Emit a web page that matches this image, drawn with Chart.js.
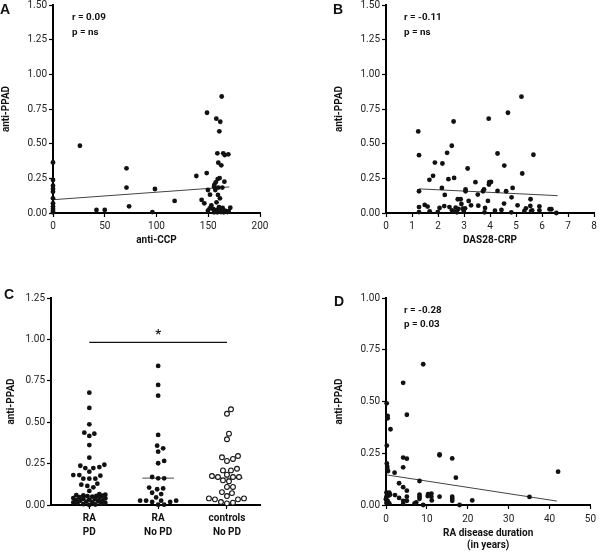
<!DOCTYPE html>
<html><head><meta charset="utf-8">
<script src="https://cdn.jsdelivr.net/npm/chart.js@4.4.1/dist/chart.umd.min.js"></script>
<style>
html,body{margin:0;padding:0;background:#fff}
body{width:600px;height:552px;position:relative;overflow:hidden;font-family:Roboto,"Liberation Sans",sans-serif}
canvas{position:absolute}
.t{position:absolute;font-weight:bold;color:#111;white-space:nowrap}
.let{font-family:"Liberation Sans","DejaVu Sans",sans-serif;font-size:14px;line-height:16px}
.st{font-size:9.8px;line-height:12px}
</style></head><body>
<canvas id="cA" width="300" height="296" style="left:0;top:-20px;width:300px;height:296px"></canvas>
<canvas id="cB" width="300" height="296" style="left:300px;top:-20px;width:300px;height:296px"></canvas>
<canvas id="cC" width="300" height="296" style="left:0;top:256px;width:300px;height:296px"></canvas>
<canvas id="cD" width="300" height="296" style="left:300px;top:256px;width:300px;height:296px"></canvas>
<div class="t let" style="left:0;top:1px">A</div>
<div class="t let" style="left:333px;top:1px">B</div>
<div class="t let" style="left:4px;top:286px">C</div>
<div class="t let" style="left:334px;top:293px">D</div>
<div class="t st" style="left:72px;top:11px">r = 0.09</div>
<div class="t st" style="left:72px;top:26px">p = ns</div>
<div class="t st" style="left:404px;top:11px">r = -0.11</div>
<div class="t st" style="left:404px;top:26px">p = ns</div>
<div class="t st" style="left:404px;top:304px">r = -0.28</div>
<div class="t st" style="left:404px;top:318px">p = 0.03</div>
<script>
// ---------- DATA ----------
// Panel A: anti-CCP vs anti-PPAD
const ccpA = [0,0,0,0,0,0,0,0,0,0,0,26,42,50,71,71,73.5,96,98.5,117.5,138.5,148.5,148.8,157.8,161.6,160.7,163,158.8,164.5,165.9,169.4,159.7,162.6,
  159.1,161,157.2,155.9,165.6,155.6,159.7,163.6,149.7,156.8,151.7,159.4,161.3,143.6,146.2,153,158,160.4,151.4,154.6,157.8,160.7,163.9,149.7,162.3,166.2,168.5,171.3,169.7,158.8,165,155.6];
const ppadA = [0.365,0.238,0.197,0.173,0.154,0.106,0.07,0.046,0.029,0.014,0.005,0.485,0.022,0.022,0.322,0.183,0.048,0.007,0.173,0.087,0.267,0.288,0.723,0.68,0.658,0.589,0.84,0.43,0.43,0.418,0.423,0.363,0.344,
  0.245,0.252,0.221,0.202,0.226,0.19,0.183,0.183,0.166,0.166,0.132,0.13,0.106,0.094,0.07,0.055,0.077,0.043,0.034,0.029,0.022,0.026,0.036,0.017,0.007,0.017,0.007,0.038,0.014,0.005,0.005,0.005];
const fitAx = [0,170.4];
const fitAy = [0.096,0.188];

// Panel B: DAS28-CRP vs anti-PPAD
const dasB = [1.24,1.27,1.27,1.27,1.27,1.49,1.6,1.67,1.81,1.88,1.68,1.99,2.06,2.17,2.15,2.26,2.24,2.35,2.4,2.53,2.6,2.62,2.44,2.54,2.62,2.68,2.76,2.87,2.78,2.73,2.9,2.95,2.99,3.06,3.06,3.04,3.14,3.18,3.27,3.44,3.53,3.55,3.73,3.77,3.81,3.79,3.95,3.92,3.97,4.04,3.96,4.19,4.29,4.29,4.44,4.54,4.55,4.62,4.69,4.87,4.83,4.82,5.06,5.21,5.24,5.32,5.38,5.56,5.55,5.58,5.67,5.62,5.9,5.9,6.29,6.36,6.55];
const ppadB = [0.588,0.417,0.157,0.043,0.007,0.058,0.046,0.239,0.268,0.364,0.012,0.007,0.036,0.357,0.181,0.13,0.05,0.434,0.244,0.485,0.66,0.253,0.043,0.019,0.01,0.039,0.099,0.099,0.029,0.005,0.065,0.031,0.014,0.171,0.157,0.034,0.321,0.087,0.055,0.222,0.133,0.053,0.157,0.171,0.036,0.005,0.68,0.087,0.222,0.224,0.205,0.017,0.159,0.429,0.022,0.068,0.342,0.157,0.723,0.181,0.113,0.005,0.055,0.839,0.285,0.014,0.034,0.099,0.051,0.014,0.42,0.019,0.048,0.019,0.027,0.027,0.0];
const fitBx = [1.27,6.6];
const fitBy = [0.174,0.125];

// Panel C: groups
const groupLabels = [['RA','PD'],['RA','No PD'],['controls','No PD']];
const raPD = [0.678,0.586,0.487,0.437,0.417,0.431,0.362,0.286,0.237,0.223,0.223,0.229,0.243,0.201,0.181,0.177,0.159,0.181,0.159,0.159,0.129,0.115,0.123,0.107,0.085,
  0.065,0.062,0.06,0.058,0.056,0.055,0.053,0.05,0.048,0.045,0.042,0.04,0.037,0.035,0.032,0.03,0.028,0.025,0.022,0.02,0.018,0.015,0.012,0.01,0.008,0.005,0.003,0.0];
const raNoPD = [0.84,0.725,0.66,0.423,0.358,0.342,0.322,0.266,0.252,0.169,0.161,0.161,0.105,0.1,0.095,0.074,0.066,0.046,0.026,0.026,0.026,0.026,0.018,0.018,0.002,0.002];
const controls = [0.578,0.551,0.431,0.397,0.296,0.278,0.266,0.288,0.219,0.209,0.209,0.183,0.169,0.169,0.169,0.175,0.143,0.149,0.109,0.109,0.072,0.078,0.054,0.04,0.034,0.034,0.04,0.014,0.01,0.018];
const medians = [0.056,0.162,0.163];
const sigBar = {from:1, to:3, y:0.982, label:'*'};

// Panel D: disease duration vs anti-PPAD
const durD = [9.1,4.2,5.1,0.17,0.4,0.4,1.1,0.2,0.2,0.3,0.3,0.5,2.1,4.2,5.1,4.2,8.2,13.1,13.1,16.2,17.1,35.1,42.1,
  0.1,0.4,0.8,1,0.1,0,0.4,0.8,0.1,0,0.6,2.2,3.2,3.2,4.2,4.2,4.2,5.1,5.1,5.1,7,7.4,8.2,8.2,8.2,9.1,10.2,10.3,11.1,11.1,11.2,13.1,16.2,16.2,16.2,18,21.1];
const ppadD = [0.68,0.59,0.436,0.491,0.431,0.419,0.366,0.287,0.201,0.185,0.174,0.164,0.156,0.229,0.224,0.182,0.116,0.245,0.24,0.225,0.132,0.039,0.161,
  0.06,0.057,0.06,0.05,0.04,0.027,0.02,0.008,0.01,0.03,0.045,0.048,0.105,0.034,0.086,0.02,0.005,0.069,0.04,0.02,0.008,0.013,0.05,0.04,0.03,0.0,0.043,0.053,0.055,0.04,0.022,0.04,0.04,0.03,0.02,0.0,0.022];
const fitDx = [0.3,41.8];
const fitDy = [0.145,0.019];

// ---------- STYLE / HELPERS ----------
const F = 'Roboto,"Liberation Sans",sans-serif';
const FS = 10;
const TXT = '#222';
const pts = (xs, ys) => xs.map((x,i)=>({x, y:ys[i]}));

function scatterDS(data, opts={}) {
  return Object.assign({type:'scatter', data, pointRadius:2.4, pointHoverRadius:2.4,
    backgroundColor:'#111', borderColor:'#111', borderWidth:0, clip:false, order:1}, opts);
}
function lineDS(data, color, width) {
  return {type:'line', data, showLine:true, pointRadius:0, borderColor:color, borderWidth:width, fill:false, clip:false, order:2};
}
function yScale(max, width, titlePad) {
  return {type:'linear', position:'left', min:0, max:max,
    ticks:{stepSize:0.25, autoSkip:false, callback:v=>Number(v).toFixed(2), color:TXT, font:{family:F,size:FS}, padding:2},
    grid:{drawOnChartArea:false, drawTicks:true, tickLength:4, tickColor:'#000', tickWidth:1.2},
    border:{display:true, color:'#000', width:2},
    title:{display:true, text:'anti-PPAD', color:'#111', font:{family:F,size:FS,weight:'bold'}, padding:{top:titlePad,bottom:0}},
    afterFit:s=>{s.width = width;}};
}
function xScale(min, max, step, height, title, titlePadB, tickPad, lh) {
  return {type:'linear', position:'bottom', min, max,
    ticks:{stepSize:step, color:TXT, font:{family:F,size:FS}, padding:tickPad, maxRotation:0, autoSkip:false},
    grid:{drawOnChartArea:false, drawTicks:true, tickLength:4, tickColor:'#000', tickWidth:1.2},
    border:{display:true, color:'#000', width:2},
    title:{display:!!title, text:title, color:'#111', font:{family:F,size:FS,weight:'bold', lineHeight:lh||1.2}, padding:{top:0,bottom:titlePadB}},
    afterFit:s=>{s.height = height;}};
}
const baseOpts = (pad) => ({responsive:false, animation:false, devicePixelRatio:1,
  layout:{padding:pad}, plugins:{legend:{display:false}, tooltip:{enabled:false}}, events:[]});

// ---------- PANEL A ----------
new Chart(document.getElementById('cA'), {
  data:{datasets:[scatterDS(pts(ccpA,ppadA)), lineDS(pts(fitAx,fitAy),'#444',1)]},
  options:Object.assign(baseOpts({left:0,top:25,right:40,bottom:0}), {
    scales:{x:xScale(0,200,50,63,'anti-CCP',30,3), y:yScale(1.5,53,0)}})
});

// ---------- PANEL B ----------
new Chart(document.getElementById('cB'), {
  data:{datasets:[scatterDS(pts(dasB,ppadB)), lineDS(pts(fitBx,fitBy),'#444',1)]},
  options:Object.assign(baseOpts({left:0,top:25,right:6,bottom:0}), {
    scales:{x:xScale(0,8,1,63,'DAS28-CRP',30,3), y:yScale(1.5,86,33)}})
});

// ---------- PANEL C ----------
// deterministic beeswarm layout (pixel spacing) derived from the values
function swarm(vals, pxX, pxY, D, maxHalf) {
  const idx = vals.map((v,i)=>i).sort((a,b)=>vals[a]-vals[b]);
  const placed = []; const off = new Array(vals.length);
  for (const i of idx) {
    const y = vals[i]*pxY;
    let best = 0, bestScore = -1;
    for (let k=0; k<=2*maxHalf; k++) {
      const o = (k%2) ? (k+1)/2 : -k/2;
      let md = Infinity;
      for (const p of placed) { const d = Math.hypot(p.x-o, p.y-y); if (d<md) md=d; }
      if (md >= D) { best = o; bestScore = Infinity; break; }
      if (md > bestScore) { bestScore = md; best = o; }
    }
    placed.push({x:best, y}); off[i] = best/pxX;
  }
  return off;
}
const PXX = 68.7, PXY = 165.6;
const groups = [raPD, raNoPD, controls];
const swarmData = groups.map((g,gi)=>{
  const off = swarm(g, PXX, PXY, gi===0?5.2:5.8, gi===0?16:19);
  return g.map((v,i)=>({x:gi+1+off[i], y:v}));
});
const medDS = medians.map((m,i)=>lineDS([{x:i+1-0.23,y:m},{x:i+1+0.23,y:m}],'#888',1.5));
const sigDS = lineDS([{x:sigBar.from,y:sigBar.y},{x:sigBar.to,y:sigBar.y}],'#111',1.3);
const starPlugin = {id:'star', afterDatasetsDraw(chart){
  const {ctx, scales:{x,y}} = chart;
  ctx.save(); ctx.fillStyle='#111'; ctx.font='bold 13px '+F; ctx.textAlign='center'; ctx.textBaseline='middle';
  ctx.fillText(sigBar.label, x.getPixelForValue((sigBar.from+sigBar.to)/2), y.getPixelForValue(1.04)+2);
  ctx.restore();
}};
new Chart(document.getElementById('cC'), {
  data:{datasets:[
    scatterDS(swarmData[0]), scatterDS(swarmData[1]),
    scatterDS(swarmData[2], {backgroundColor:'#fff', borderColor:'#111', borderWidth:1.1, pointRadius:2.4}),
    ...medDS, sigDS]},
  options:Object.assign(baseOpts({left:0,top:42,right:40,bottom:0}), {
    scales:{
      x:{type:'linear', position:'bottom', min:0.443, max:3.48,
        afterBuildTicks:s=>{s.ticks=[{value:1},{value:2},{value:3}];},
        ticks:{callback:v=>groupLabels[Math.round(v)-1], color:'#111', font:{family:F,size:FS,weight:'bold',lineHeight:1.45}, padding:2, maxRotation:0, autoSkip:false},
        grid:{drawOnChartArea:false, drawTicks:true, tickLength:4, tickColor:'#000', tickWidth:1.2},
        border:{display:true, color:'#000', width:2},
        afterFit:s=>{s.height = 47;}},
      y:yScale(1.25,51,5)}}),
  plugins:[starPlugin]
});

// ---------- PANEL D ----------
new Chart(document.getElementById('cD'), {
  data:{datasets:[scatterDS(pts(durD,ppadD)), lineDS(pts(fitDx,fitDy),'#444',1)]},
  options:Object.assign(baseOpts({left:0,top:42,right:6,bottom:0}), {
    scales:{x:xScale(0,50,10,47,['RA disease duration','(in years)'],1,4,1.15), y:yScale(1.0,86,33)}})
});
</script>
</body></html>
